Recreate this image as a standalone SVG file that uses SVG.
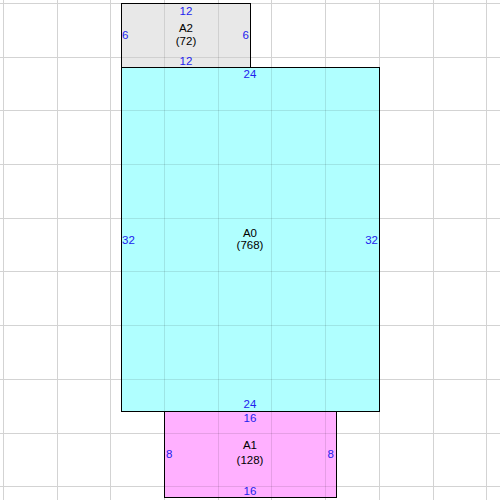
<svg xmlns="http://www.w3.org/2000/svg" width="500" height="500" viewBox="0 0 500 500">
<style>
.g{stroke:#d3d3d3;stroke-width:1}
.go{stroke:#000;stroke-opacity:0.1;stroke-width:1}
.box{stroke:#000;stroke-width:1}
text{font-family:"Liberation Sans",Arial,sans-serif;font-size:11.5px}
.nm{fill:#000;text-anchor:middle}
.e{fill:#2222ee}
.c{text-anchor:middle}
.r{text-anchor:end}
</style>
<defs>
<clipPath id="cl">
<rect x="121.5" y="3.5" width="129" height="64"/>
<rect x="121.5" y="67.5" width="258" height="344"/>
<rect x="164.5" y="411.5" width="172" height="86"/>
</clipPath>
<g id="grid">
<line x1="3.5" y1="0" x2="3.5" y2="500"/>
<line x1="57.5" y1="0" x2="57.5" y2="500"/>
<line x1="110.5" y1="0" x2="110.5" y2="500"/>
<line x1="164.5" y1="0" x2="164.5" y2="500"/>
<line x1="218.5" y1="0" x2="218.5" y2="500"/>
<line x1="271.5" y1="0" x2="271.5" y2="500"/>
<line x1="325.5" y1="0" x2="325.5" y2="500"/>
<line x1="379.5" y1="0" x2="379.5" y2="500"/>
<line x1="433.5" y1="0" x2="433.5" y2="500"/>
<line x1="486.5" y1="0" x2="486.5" y2="500"/>
<line x1="0" y1="3.5" x2="500" y2="3.5"/>
<line x1="0" y1="57.5" x2="500" y2="57.5"/>
<line x1="0" y1="110.5" x2="500" y2="110.5"/>
<line x1="0" y1="164.5" x2="500" y2="164.5"/>
<line x1="0" y1="218.5" x2="500" y2="218.5"/>
<line x1="0" y1="271.5" x2="500" y2="271.5"/>
<line x1="0" y1="325.5" x2="500" y2="325.5"/>
<line x1="0" y1="379.5" x2="500" y2="379.5"/>
<line x1="0" y1="433.5" x2="500" y2="433.5"/>
<line x1="0" y1="486.5" x2="500" y2="486.5"/>
</g>
</defs>
<rect width="500" height="500" fill="#fff"/>
<use href="#grid" class="g"/>
<g id="A2">
<rect class="box" x="121.5" y="3.5" width="129" height="64" fill="#e8e8e8"/>
</g>
<g id="A0">
<rect class="box" x="121.5" y="67.5" width="258" height="344" fill="#b0ffff"/>
</g>
<g id="A1">
<rect class="box" x="164.5" y="411.5" width="172" height="86" fill="#ffb0ff"/>
</g>
<use href="#grid" class="go" clip-path="url(#cl)"/>
<g id="connectors"/>
<g id="A2-labels">
<text class="nm" x="186" y="32">A2</text>
<text class="nm" x="186" y="45">(72)</text>
<text class="e c" x="186" y="15">12</text>
<text class="e c" x="186" y="65">12</text>
<text class="e" x="122" y="39">6</text>
<text class="e r" x="249" y="39">6</text>
</g>
<g id="A0-labels">
<text class="nm" x="250" y="237">A0</text>
<text class="nm" x="250" y="249">(768)</text>
<text class="e c" x="250" y="78">24</text>
<text class="e c" x="250" y="408">24</text>
<text class="e" x="122" y="244">32</text>
<text class="e r" x="378" y="244">32</text>
</g>
<g id="A1-labels">
<text class="nm" x="250" y="449">A1</text>
<text class="nm" x="250" y="464">(128)</text>
<text class="e c" x="250" y="422">16</text>
<text class="e c" x="250" y="495">16</text>
<text class="e" x="166" y="458">8</text>
<text class="e r" x="334" y="458">8</text>
</g>
</svg>
